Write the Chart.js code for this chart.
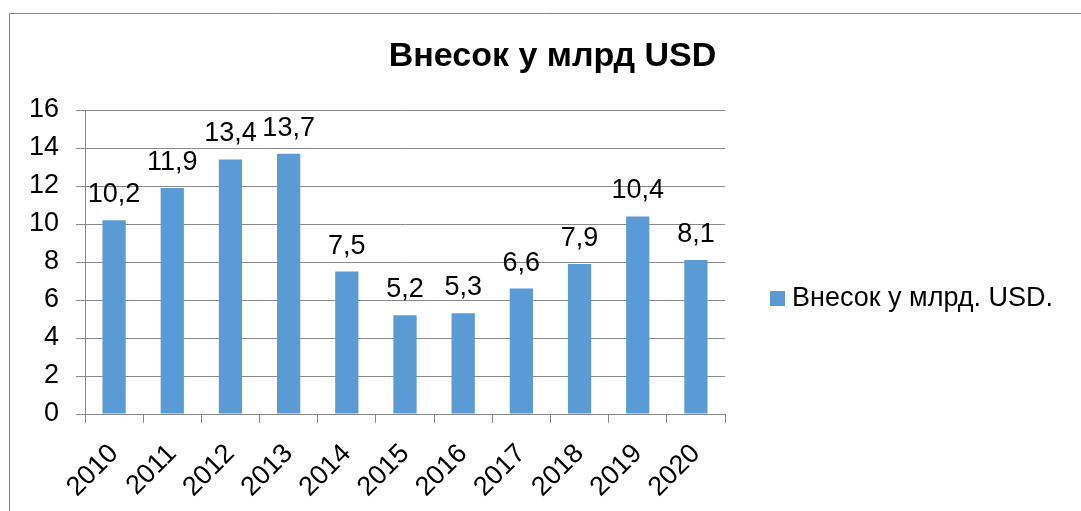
<!DOCTYPE html>
<html>
<head>
<meta charset="utf-8">
<script src="https://cdn.jsdelivr.net/npm/chart.js@4.4.1/dist/chart.umd.min.js"></script>
<style>
  html, body { margin: 0; padding: 0; background: #ffffff; }
  #wrap { width: 1081px; height: 511px; position: relative; }
</style>
</head>
<body>
<div id="wrap"><canvas id="c" width="1081" height="511"></canvas></div>
<script>
const chartTitle = 'Внесок у млрд USD';
const seriesName = 'Внесок у млрд. USD.';
const categories = ['2010', '2011', '2012', '2013', '2014', '2015', '2016', '2017', '2018', '2019', '2020'];
const values = [10.2, 11.9, 13.4, 13.7, 7.5, 5.2, 5.3, 6.6, 7.9, 10.4, 8.1];
const yTicks = [0, 2, 4, 6, 8, 10, 12, 14, 16];

const FONT = '"Liberation Sans", Arial, sans-serif';
const GRID = '#898989';
const BAR = '#5B9BD5';

const decorPlugin = {
  id: 'decor',
  beforeDraw(chart) {
    const ctx = chart.ctx;
    ctx.save();
    ctx.fillStyle = '#ffffff';
    ctx.fillRect(0, 0, chart.width, chart.height);
    ctx.strokeStyle = '#868686';
    ctx.lineWidth = 1;
    ctx.beginPath();
    ctx.moveTo(9.5, chart.height);
    ctx.lineTo(9.5, 13.5);
    ctx.lineTo(chart.width, 13.5);
    ctx.stroke();
    ctx.restore();
  },
  afterDraw(chart) {
    const ctx = chart.ctx;
    ctx.save();
    // title
    ctx.fillStyle = '#000000';
    ctx.font = 'bold 34px ' + FONT;
    ctx.textAlign = 'center';
    ctx.textBaseline = 'alphabetic';
    ctx.fillText(chartTitle, 552.5, 66);
    // data labels
    ctx.font = '27px ' + FONT;
    const meta = chart.getDatasetMeta(0);
    meta.data.forEach((bar, i) => {
      const txt = String(values[i]).replace('.', ',');
      ctx.fillText(txt, bar.x, bar.y - 18);
    });
    // legend
    const lx = 770, ly = 291;
    ctx.fillStyle = BAR;
    ctx.fillRect(lx, ly, 15, 15);
    ctx.fillStyle = '#000000';
    ctx.textAlign = 'left';
    ctx.textBaseline = 'middle';
    ctx.font = '27px ' + FONT;
    ctx.fillText(chart.data.datasets[0].label, 792, 299);
    ctx.restore();
  }
};

new Chart(document.getElementById('c'), {
  type: 'bar',
  data: {
    labels: categories,
    datasets: [{
      label: seriesName,
      data: values,
      backgroundColor: BAR,
      borderWidth: 0,
      barPercentage: 0.4,
      categoryPercentage: 1.0
    }]
  },
  options: {
    responsive: false,
    animation: false,
    devicePixelRatio: 1,
    layout: { padding: { left: 0, top: 110, right: 356, bottom: 0 } },
    plugins: {
      legend: { display: false },
      title: { display: false },
      tooltip: { enabled: false }
    },
    scales: {
      x: {
        offset: true,
        afterFit(scale) { scale.height = 97; },
        grid: {
          offset: true,
          drawOnChartArea: false,
          drawTicks: true,
          tickLength: 9,
          color: GRID
        },
        border: { display: true, color: GRID },
        ticks: {
          color: '#000000',
          font: { family: FONT, size: 27 },
          minRotation: 45,
          maxRotation: 45,
          padding: 15,
          autoSkip: false
        }
      },
      y: {
        min: 0,
        max: 16,
        afterFit(scale) { scale.width = 85; },
        afterBuildTicks(scale) { scale.ticks = yTicks.map(v => ({ value: v })); },
        grid: {
          color: GRID,
          drawTicks: true,
          tickLength: 9
        },
        border: { display: true, color: GRID },
        ticks: {
          color: '#000000',
          font: { family: FONT, size: 27 },
          padding: 17
        }
      }
    }
  },
  plugins: [decorPlugin]
});
</script>
</body>
</html>
